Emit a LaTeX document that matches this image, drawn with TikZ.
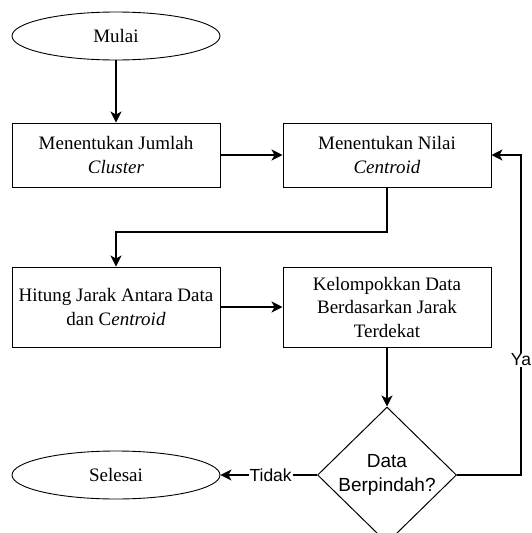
\documentclass[tikz,border=0pt]{standalone}
\usepackage{fontspec}
\setmainfont{Liberation Serif}
\setsansfont{Liberation Sans}
\usetikzlibrary{shapes.geometric,arrows.meta}
\begin{document}
\begin{tikzpicture}[x=1pt,y=-1pt,
  txt/.style={font=\fontsize{19}{23.5}\selectfont, align=center},
  sanstxt/.style={font=\sffamily\fontsize{19}{23.5}\selectfont, align=center},
  term/.style={ellipse, draw, line width=0.9pt, inner sep=0pt, minimum width=208pt, minimum height=48pt, txt},
  procbox/.style={rectangle, draw, line width=1pt, inner sep=0pt, minimum width=208pt, txt},
  decis/.style={diamond, draw, line width=1pt, inner sep=0pt, minimum width=139pt, minimum height=136pt},
  conn/.style={draw, line width=1.1pt, -{Stealth[length=11pt,width=11pt,inset=3pt]}},
  elabel/.style={font=\sffamily\fontsize{17.5}{20}\selectfont, fill=white, inner sep=1pt}
]
\useasboundingbox (0,0) rectangle (531,533);
\clip (0,0) rectangle (531,533);
\node[term] (mulai) at (116,36) {Mulai};
\node[procbox, minimum height=64pt] (b1) at (116,155) {Menentukan Jumlah\\\textit{Cluster}};
\node[procbox, minimum height=64pt] (b2) at (387,155) {Menentukan Nilai\\\textit{Centroid}};
\node[procbox, minimum height=80pt] (b3) at (116,307) {Hitung Jarak Antara Data\\dan C\textit{entroid}};
\node[procbox, minimum height=80pt] (b4) at (387,307) {Kelompokkan Data\\Berdasarkan Jarak\\Terdekat};
\node[decis, label={[sanstxt]center:Data\\Berpindah?}] (d) at (387,475) {};
\node[term] (selesai) at (116,475) {Selesai};
\coordinate (mid) at (0,232);
\coordinate (loopx) at (521,0);
\draw[conn] (mulai) -- (b1);
\draw[conn] (b1) -- (b2);
\draw[conn] (b2.south) -- (b2.south |- mid) -- (b3.north |- mid) -- (b3.north);
\draw[conn] (b3) -- (b4);
\draw[conn] (b4) -- (d.north);
\draw[conn] (d.west) -- node[elabel, pos=0.48] {Tidak} (selesai.east);
\draw[conn] (d.east) -- (d.east -| loopx) -- node[elabel, pos=0.36] {Ya} (b2.east -| loopx) -- (b2.east);
\end{tikzpicture}
\end{document}
